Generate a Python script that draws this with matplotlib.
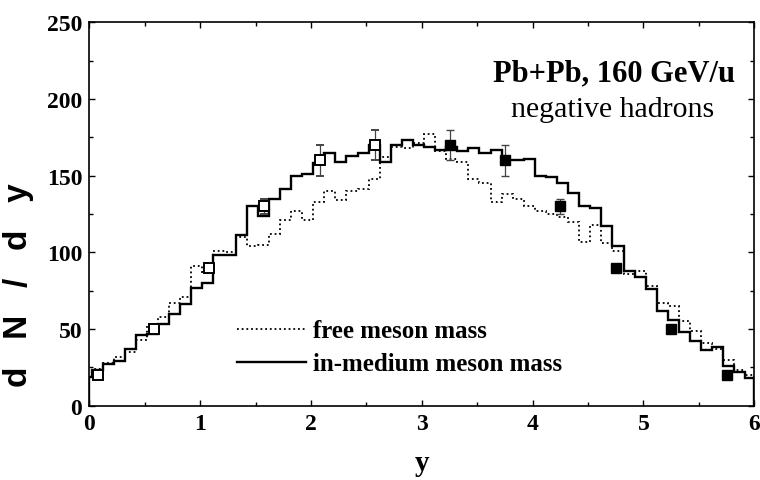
import numpy as np
import matplotlib
matplotlib.use("Agg")
import matplotlib.pyplot as plt
from matplotlib.lines import Line2D
from matplotlib.ticker import MultipleLocator

# ---------------- data ----------------
bin_width = 0.1
bin_offset = 0.02
x_min, x_max = 0.0, 6.0
inner_edges = bin_offset + bin_width * np.arange(60)          # 0.02 ... 5.92
edges = np.concatenate([[x_min], inner_edges, [x_max]])       # 62 edges, 61 bins

in_medium = [19, 23, 27, 29, 37, 46, 47, 53, 60, 66,
             77, 80, 98, 98, 111, 130, 124, 135, 141, 150,
             151, 158, 165, 159, 163, 165, 170, 159, 170, 173,
             170, 169, 167, 169, 166, 168, 165, 167, 160, 160,
             161, 150, 149, 145, 139, 130, 129, 117, 104, 88,
             84, 76, 62, 56, 48, 42, 36, 38, 26, 22,
             18]

free_mass = [19, 24, 28, 32, 35, 43, 52, 58, 67, 71,
             91, 87, 101, 100, 110, 104, 105, 112, 121, 127,
             121, 133, 140, 134, 140, 141, 148, 162, 169, 168,
             171, 177, 166, 161, 159, 148, 145, 133, 138, 135,
             130, 127, 125, 123, 120, 107, 118, 106, 101, 86,
             88, 78, 67, 65, 55, 49, 41, 37, 30, 23,
             20]

# measured data (filled) and reflected data (open)
meas_y = [3.25, 3.75, 4.25, 4.75, 5.25, 5.75]
meas_val = [170, 160, 130, 90, 50, 20]
meas_err = [10, 10, 5, 2, 2, 2]
refl_y = [0.08, 0.58, 1.08, 1.58, 2.08, 2.58]
refl_val = [20, 50, 90, 130, 160, 170]
refl_err = [2, 2, 2, 5, 10, 10]

x_ticks = [0, 1, 2, 3, 4, 5, 6]
y_ticks = [0, 50, 100, 150, 200, 250]

# ---------------- figure ----------------
fig = plt.figure(figsize=(7.6, 4.81), dpi=100)
ax = fig.add_axes([0.1175, 0.1545, 0.875, 0.797])

serif = "Liberation Serif"

ax.stairs(free_mass, edges, color="black", lw=1.3, linestyle=(0, (1, 1.6)))
ax.stairs(in_medium, edges, color="black", lw=1.7)

ax.errorbar(refl_y, refl_val, yerr=refl_err, fmt="s", ms=7.5, mfc="white",
            mec="black", mew=1.4, ecolor="#444444", elinewidth=0.9,
            capsize=3, capthick=0.9, zorder=5)
ax.errorbar(meas_y, meas_val, yerr=meas_err, fmt="s", ms=7.5, mfc="black",
            mec="black", mew=1.0, ecolor="#444444", elinewidth=0.9,
            capsize=3, capthick=0.9, zorder=5)

ax.set_xlim(x_min, x_max)
ax.set_ylim(0, 250)
ax.set_xticks(x_ticks)
ax.set_yticks(y_ticks)
ax.xaxis.set_minor_locator(MultipleLocator(0.5))
ax.yaxis.set_minor_locator(MultipleLocator(25))
ax.tick_params(which="both", direction="in", top=True, right=True, width=1.0)
ax.tick_params(which="major", length=4.5)
ax.tick_params(which="minor", length=3)
ax.tick_params(axis="x", pad=5)
ax.tick_params(axis="y", pad=5)
for lab in ax.get_xticklabels() + ax.get_yticklabels():
    lab.set_fontfamily(serif)
    lab.set_fontweight("bold")
    lab.set_fontsize(17)
for sp in ax.spines.values():
    sp.set_linewidth(1.2)

ax.set_xlabel("y", fontfamily=serif, fontweight="bold", fontsize=21)
ax.xaxis.set_label_coords(0.5, -0.112)
ax.set_ylabel("d   N   /   d   y", fontfamily="Liberation Sans", fontweight="bold",
              fontsize=24)
ax.yaxis.set_label_coords(-0.083, 0.318)

ax.text(0.9715, 0.8495, "Pb+Pb, 160 GeV/u", transform=ax.transAxes,
        ha="right", va="baseline", fontfamily=serif, fontweight="bold", fontsize=22)
ax.text(0.7875, 0.7564, "negative hadrons", transform=ax.transAxes,
        ha="center", va="baseline", fontfamily=serif, fontsize=21.5)

handles = [Line2D([], [], color="black", lw=1.3, linestyle=(0, (1, 1.6))),
           Line2D([], [], color="black", lw=1.7)]
labels = ["free meson mass", "in-medium meson mass"]
ax.legend(handles, labels, loc="center left", bbox_to_anchor=(0.222, 0.152),
          frameon=False, prop={"family": serif, "weight": "bold", "size": 18},
          handlelength=2.75, handletextpad=0.3, labelspacing=0.4, borderpad=0,
          borderaxespad=0)

fig.savefig("out.png", dpi=100)
